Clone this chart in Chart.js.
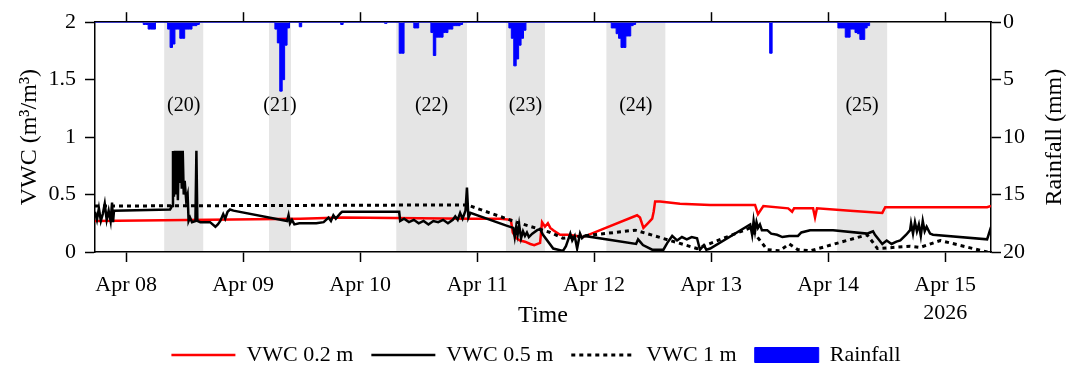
<!DOCTYPE html>
<html>
<head>
<meta charset="utf-8">
<script src="https://cdn.jsdelivr.net/npm/chart.js@4.4.1/dist/chart.umd.min.js"></script>
<style>
  html, body { margin: 0; padding: 0; background: #fff; }
  #wrap { width: 1072px; height: 376px; }
</style>
</head>
<body>
<div id="wrap"><canvas id="vwcChart" width="1072" height="376"></canvas></div>
<script>
// time is in hours from Apr 08 00:00
const xTickHours = [0, 24, 48, 72, 96, 120, 144, 168];
const xTickLabels = ['Apr 08', 'Apr 09', 'Apr 10', 'Apr 11', 'Apr 12', 'Apr 13', 'Apr 14', ['Apr 15', '2026']];
const yTickValues = [0, 0.5, 1, 1.5, 2];
const yTickLabels = ['0', '0.5', '1', '1.5', '2'];
const rainTickValues = [0, 5, 10, 15, 20];
const rainTickLabels = ['0', '5', '10', '15', '20'];

// rain events (shaded)
const eventNames = ['(20)', '(21)', '(22)', '(23)', '(24)', '(25)'];
const eventStart = [7.8, 29.3, 55.4, 77.9, 98.5, 145.8];
const eventEnd = [15.8, 33.8, 69.9, 85.9, 110.6, 156.1];

// VWC 0.2 m
const vwc02Hours = [-6.4, 35.7, 44.3, 70.6, 76.7, 78.9, 79.3, 79.6, 80.0, 80.8, 81.8, 82.9, 83.7, 84.9, 85.3,
  85.9, 86.5, 87.0, 87.6, 89.0, 90.5, 92.5, 93.7, 104.8, 105.4, 106.1, 107.0, 107.9, 108.2, 108.5, 109.5,
  113.6, 119.8, 129.0, 129.6, 130.7, 135.8, 136.6, 137.0, 140.9, 141.3, 141.7, 148.5, 155.1, 155.7, 165.0,
  176.6, 177.4];
const vwc02 = [0.27, 0.29, 0.30, 0.29, 0.29, 0.28, 0.17, 0.15, 0.12, 0.10, 0.09, 0.07, 0.06, 0.08, 0.26,
  0.22, 0.25, 0.21, 0.19, 0.15, 0.15, 0.14, 0.13, 0.32, 0.30, 0.21, 0.25, 0.29, 0.35, 0.44, 0.44,
  0.42, 0.41, 0.41, 0.33, 0.40, 0.38, 0.35, 0.38, 0.38, 0.30, 0.38, 0.36, 0.34, 0.39, 0.39,
  0.39, 0.40];

// VWC 0.5 m
const vwc05Hours = [-6.4, -6.0, -5.6, -5.2, -4.8, -4.4, -4.0, -3.6, -3.2, -2.9, -2.7, -2.5, 9.0,
  9.4, 9.6, 9.8, 10.0, 10.2, 10.4, 10.6, 10.8, 11.0, 11.2, 11.4, 11.6, 11.8, 12.0, 12.3, 12.6, 12.8,
  13.1, 13.5, 14.2, 14.4, 14.6, 15.2, 16.2, 17.2, 18.3, 18.8, 19.3, 19.9, 20.3, 20.8, 21.3, 22.0,
  33.0, 33.3, 33.6, 34.0, 34.5, 35.5, 37.0, 39.0, 40.5, 41.5, 42.0, 42.5, 43.0, 44.0, 44.3,
  56.0, 56.2, 57, 58, 59, 60, 61, 62, 63, 64, 65, 66, 67, 67.5, 68, 68.5, 69, 69.6, 69.9, 70.2, 70.6,
  78.0, 79.4, 79.7, 80.0, 80.3, 80.6, 81.0, 81.4, 81.8, 82.2, 82.6, 83.3, 84.3, 84.9, 85.5, 87.6,
  89.6, 90.2, 91.1, 91.5, 92.0, 92.5, 93.1, 93.5, 94.0, 104.6, 105.0, 105.4, 106.0, 107.9, 110.2,
  111.0, 112.0, 113, 114, 115, 116, 117.1, 117.7, 118.5, 119.0, 119.8, 128.0, 128.4, 128.7, 129.0,
  129.3, 129.6, 130.0, 130.4, 131.5, 132.3, 133.5, 134.6, 136.0, 137.8, 138.5, 140.3, 145.0, 152.0,
  152.6, 153.2, 153.6, 155.1, 156, 157, 158, 158.8, 160.0, 160.8, 161.0, 161.4, 161.8, 162.2, 162.6,
  163.0, 163.4, 163.8, 164.2, 164.9, 165.5, 176.6, 177.2, 177.4];
const vwc05 = [0.35, 0.28, 0.38, 0.27, 0.33, 0.42, 0.28, 0.36, 0.27, 0.43, 0.26, 0.36, 0.37,
  0.40, 0.88, 0.48, 0.88, 0.50, 0.88, 0.45, 0.88, 0.60, 0.88, 0.55, 0.88, 0.50, 0.62, 0.45, 0.50, 0.27,
  0.30, 0.26, 0.27, 0.88, 0.27, 0.26, 0.26, 0.26, 0.22, 0.24, 0.27, 0.33, 0.29, 0.35, 0.37, 0.36,
  0.27, 0.32, 0.25, 0.28, 0.24, 0.25, 0.25, 0.25, 0.26, 0.30, 0.27, 0.32, 0.29, 0.34, 0.35,
  0.35, 0.27, 0.29, 0.26, 0.28, 0.25, 0.27, 0.24, 0.27, 0.26, 0.28, 0.25, 0.28, 0.31, 0.28, 0.34, 0.29, 0.36, 0.56, 0.30, 0.34,
  0.23, 0.21, 0.13, 0.22, 0.15, 0.24, 0.12, 0.18, 0.14, 0.17, 0.13, 0.16, 0.19, 0.20, 0.15, 0.03,
  0.01, 0.05, 0.16, 0.10, 0.14, 0.03, 0.16, 0.12, 0.14, 0.07, 0.11, 0.09, 0.06, 0.02, 0.02,
  0.08, 0.14, 0.10, 0.13, 0.11, 0.13, 0.12, 0.02, 0.06, 0.02, 0.03, 0.24, 0.15, 0.27, 0.18,
  0.26, 0.21, 0.24, 0.19, 0.19, 0.16, 0.15, 0.13, 0.14, 0.14, 0.17, 0.19, 0.19, 0.16,
  0.17, 0.18, 0.15, 0.07, 0.10, 0.07, 0.09, 0.10, 0.15, 0.19, 0.25, 0.16, 0.26, 0.18, 0.24,
  0.14, 0.27, 0.18, 0.22, 0.16, 0.15, 0.11, 0.19, 0.17];

// VWC 1 m
const vwc1Hours = [-6.4, 69.9, 70.6, 80.0, 87.0, 89.6, 104.4, 111.6, 117.1, 128.0, 131.5, 134.0,
  136.0, 137.8, 140.3, 152.0, 154.1, 160.8, 162.9, 167.0, 176.6, 177.4];
const vwc1 = [0.40, 0.41, 0.40, 0.26, 0.17, 0.12, 0.19, 0.10, 0.03, 0.21, 0.02, 0.01,
  0.07, 0.02, 0.01, 0.15, 0.03, 0.05, 0.04, 0.10, 0.00, 0.00];

// rainfall (mm), each value holds for half an hour from its start time
const rainHours = [-6.4,
  3.5, 4.0, 4.5, 5.0, 5.5, 6.0,
  8.5, 9.0, 9.5, 10.0, 10.5, 11.0, 11.5, 12.0, 12.5, 13.0, 13.5, 14.0, 14.5, 15.0,
  30.5, 31.0, 31.5, 32.0, 32.5, 33.0, 33.5,
  35.5, 36.0, 44.0, 44.5, 53.0, 53.5,
  56.0, 56.5, 57.0, 59.0, 59.5, 60.0,
  62.5, 63.0, 63.5, 64.0, 64.5, 65.0, 65.5, 66.0, 66.5, 67.0, 67.5, 68.0, 68.5, 69.0,
  78.5, 79.0, 79.5, 80.0, 80.5, 81.0, 81.5, 82.0,
  99.5, 100.0, 100.5, 101.0, 101.5, 102.0, 102.5, 103.0, 103.5, 104.0, 104.5,
  132.0, 132.5,
  146.0, 146.5, 147.0, 147.5, 148.0, 148.5, 149.0, 149.5, 150.0, 150.5, 151.0, 151.5, 152.0, 152.5];
const rainMm = [0,
  0.2, 0.2, 0.6, 0.6, 0.6, 0,
  0.6, 2.2, 1.9, 0.6, 0.6, 1.4, 1.4, 0.6, 0.6, 0.6, 0.3, 0.3, 0.2, 0,
  0.6, 1.8, 6.0, 5.0, 2.0, 0.5, 0,
  0.4, 0, 0.2, 0, 0.1, 0,
  2.7, 2.7, 0, 0.5, 0.5, 0,
  0.9, 2.9, 1.3, 1.3, 1.3, 0.9, 0.9, 0.6, 0.6, 0.3, 0.3, 0.3, 0.2, 0,
  0.5, 1.4, 3.8, 3.2, 2.0, 1.4, 0.7, 0,
  0.5, 0.5, 1.0, 1.4, 2.2, 2.2, 1.2, 1.2, 0.3, 0.2, 0,
  2.7, 0,
  0.5, 0.5, 0.5, 1.3, 1.3, 0.6, 0.6, 0.9, 1.0, 1.5, 1.5, 0.5, 0.3, 0];

const xMin = -6.4, xMax = 177.4;
const serif = 'Liberation Serif';

function pairs(xs, ys) {
  return xs.map((x, i) => ({ x: x, y: ys[i] }));
}

// shaded rain events and their numbers
const eventPlugin = {
  id: 'events',
  beforeDraw(chart) {
    const { ctx, chartArea, scales } = chart;
    ctx.save();
    ctx.fillStyle = '#e5e5e5';
    eventStart.forEach((s, i) => {
      const x0 = scales.x.getPixelForValue(s);
      const x1 = scales.x.getPixelForValue(eventEnd[i]);
      ctx.fillRect(x0, chartArea.top, x1 - x0, chartArea.bottom - chartArea.top);
    });
    ctx.restore();
  },
  afterDatasetsDraw(chart) {
    const { ctx, scales } = chart;
    ctx.save();
    ctx.fillStyle = '#000';
    ctx.font = '20px "' + serif + '"';
    ctx.textAlign = 'center';
    ctx.textBaseline = 'middle';
    const y = scales.y.getPixelForValue(1.27);
    eventNames.forEach((name, i) => {
      const x = scales.x.getPixelForValue((eventStart[i] + eventEnd[i]) / 2);
      ctx.fillText(name, x, y);
    });
    ctx.restore();
  },
  afterDraw(chart) {
    // right axis title reads bottom to top
    const { ctx, chartArea } = chart;
    ctx.save();
    ctx.translate(1055, (chartArea.top + chartArea.bottom) / 2);
    ctx.rotate(-Math.PI / 2);
    ctx.fillStyle = '#000';
    ctx.font = '24px "' + serif + '"';
    ctx.textAlign = 'center';
    ctx.textBaseline = 'middle';
    ctx.fillText('Rainfall (mm)', 0, 0);
    ctx.restore();
  }
};

function renderChart() {
  const ctx = document.getElementById('vwcChart');
  Chart.defaults.font.family = serif;
  Chart.defaults.color = '#000';

  const axisGrid = { drawOnChartArea: false, drawTicks: true, tickLength: 10, tickWidth: 1.5, tickColor: '#000', color: '#000' };
  const axisBorder = { display: true, color: '#000', width: 1.5 };
  const setTicks = s => { s.ticks = xTickHours.map(v => ({ value: v })); };

  new Chart(ctx, {
    type: 'line',
    data: {
      datasets: [
        { label: 'VWC 0.2 m', data: pairs(vwc02Hours, vwc02), borderColor: '#ff0000', backgroundColor: '#ff0000',
          borderWidth: 2.5, pointRadius: 0, yAxisID: 'y', order: 3 },
        { label: 'VWC 0.5 m', data: pairs(vwc05Hours, vwc05), borderColor: '#000000', backgroundColor: '#000000',
          borderWidth: 2.5, pointRadius: 0, yAxisID: 'y', order: 2 },
        { label: 'VWC 1 m', data: pairs(vwc1Hours, vwc1), borderColor: '#000000', backgroundColor: '#000000',
          borderWidth: 3, borderDash: [4, 4], pointRadius: 0, yAxisID: 'y', order: 1 },
        { label: 'Rainfall', data: pairs(rainHours, rainMm), borderColor: '#0000ff', backgroundColor: '#0000ff',
          borderWidth: 1, pointRadius: 0, stepped: true, fill: 'origin', yAxisID: 'y2', order: 4 }
      ]
    },
    options: {
      responsive: false,
      animation: false,
      devicePixelRatio: 1,
      layout: { padding: 0 },
      scales: {
        x: {
          type: 'linear', position: 'bottom', min: xMin, max: xMax,
          afterBuildTicks: setTicks,
          afterFit: s => { s.height = s.chart.height - 252 - (s.chart.legend ? s.chart.legend.height : 0); },
          ticks: { autoSkip: false, maxRotation: 0, padding: 9, font: { size: 22, lineHeight: 1.27 },
            callback: (v, i) => xTickLabels[i] },
          grid: axisGrid, border: axisBorder,
          title: { display: true, text: 'Time', font: { size: 24 }, padding: { top: 0, bottom: -4 } }
        },
        x2: {
          type: 'linear', position: 'top', min: xMin, max: xMax,
          afterBuildTicks: setTicks,
          afterFit: s => { s.height = 18; },
          ticks: { display: false },
          grid: axisGrid, border: axisBorder
        },
        y: {
          position: 'left', min: 0, max: 2,
          afterFit: s => { s.width = 95; },
          ticks: { stepSize: 0.5, padding: 9, font: { size: 22 },
            callback: v => yTickLabels[yTickValues.indexOf(v)] },
          grid: axisGrid, border: axisBorder,
          title: { display: true, text: 'VWC (m³/m³)', font: { size: 24 }, padding: { top: 15, bottom: 0 } }
        },
        y2: {
          position: 'right', min: 0, max: 20, reverse: true,
          afterFit: s => { s.width = 81; },
          ticks: { stepSize: 5, padding: 2, font: { size: 22 },
            callback: v => rainTickLabels[rainTickValues.indexOf(v)] },
          grid: axisGrid, border: axisBorder
        }
      },
      plugins: {
        tooltip: { enabled: false },
        legend: {
          position: 'bottom',
          labels: {
            usePointStyle: true, pointStyleWidth: 64, boxHeight: 15, padding: 18,
            font: { size: 22 }, color: '#000',
            generateLabels: chart => chart.data.datasets.map((ds, i) => ({
              text: ds.label,
              fillStyle: ds.backgroundColor,
              strokeStyle: ds.borderColor,
              lineWidth: ds.label === 'Rainfall' ? 1 : ds.borderWidth,
              lineDash: ds.borderDash || [],
              pointStyle: ds.label === 'Rainfall' ? 'rect' : 'line',
              datasetIndex: i,
              hidden: false
            }))
          }
        }
      }
    },
    plugins: [eventPlugin]
  });
}

renderChart();
</script>
</body>
</html>
